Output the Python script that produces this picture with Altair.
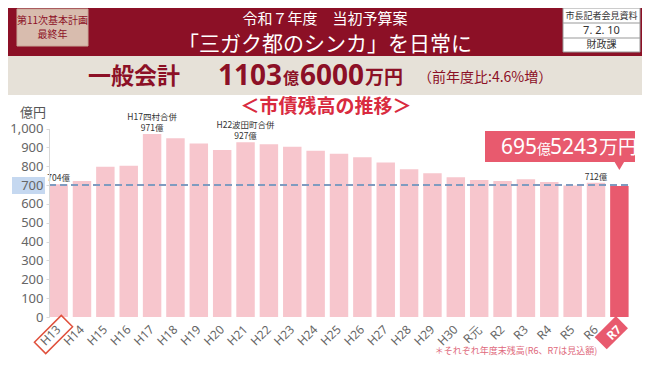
import altair as alt
import pandas as pd

# ---- data ----
cats = ["H13", "H14", "H15", "H16", "H17", "H18", "H19", "H20", "H21", "H22",
        "H23", "H24", "H25", "H26", "H27", "H28", "H29", "H30", "R元", "R2",
        "R3", "R4", "R5", "R6", "R7"]
values = [704, 721, 797, 803, 971, 948, 921, 886, 927, 916,
          903, 882, 866, 848, 820, 784, 763, 741, 727, 722,
          731, 716, 698, 712, 695.5]
ann_cats = ["H13", "H17", "H21", "R6"]
ann_vals = [704, 971, 927, 712]
ann_labels = ["704億", "971億", "927億", "712億"]
event_labels = ["", "H17四村合併", "H22波田町合併", ""]
y_ticks = [0, 100, 200, 300, 400, 500, 600, 700, 800, 900, 1000]
ref_value = 700

JP = "Noto Sans CJK JP"
DARK_RED = "#8C1026"
PINK = "#F7C6CD"
RED = "#E85A6E"

df = pd.DataFrame({"cat": cats, "value": values})
df["hl"] = ["R7" if c == "R7" else "other" for c in cats]
ann = pd.DataFrame({"cat": ann_cats, "value": ann_vals,
                    "lab": ann_labels, "ev": event_labels})
dummy = pd.DataFrame({"a": [0]})

x_enc = alt.X(
    "cat:N",
    scale=alt.Scale(domain=cats, range=[41.4, 620.6], paddingInner=0.21, paddingOuter=0),
    axis=alt.Axis(title=None, orient="bottom", offset=-40, labelAngle=315,
                  labelAlign="right", labelBaseline="middle", labelPadding=10,
                  ticks=False, domain=False, labelFont="Noto Sans", labelFontSize=12,
                  labelColor=alt.expr("datum.label == 'R7' ? '#ffffff' : '#666666'"),
                  labelFontWeight=alt.expr("datum.label == 'R7' ? 'bold' : 'normal'"),
                  zindex=2),
)
y_enc = alt.Y(
    "value:Q",
    scale=alt.Scale(domain=[0, 1000], range=[309, 120.5], nice=False, zero=True),
    axis=alt.Axis(title=None, orient="left", offset=-41, values=y_ticks, format=",d",
                  grid=False, domainColor="#d8d8d8", tickColor="#d8d8d8", tickSize=3,
                  labelFont="Noto Sans", labelFontSize=13, labelColor="#666666",
                  labelPadding=3, zindex=2),
)


def rect(x, x2, y, y2, **kw):
    return alt.Chart(dummy).mark_rect(**kw).encode(
        x=alt.value(x), x2=alt.value(x2), y=alt.value(y), y2=alt.value(y2))


def txt(s, x, y, **kw):
    kw.setdefault("font", JP)
    return alt.Chart(dummy).mark_text(text=s, **kw).encode(x=alt.value(x), y=alt.value(y))


layers = []
# header bands
layers.append(rect(0, 634, 0, 48, color=DARK_RED))
layers.append(rect(0, 634, 48, 87, color="#E6E1D8"))
# left box
layers.append(rect(9, 80, 1, 38, color="#D8BCAE", stroke="#C9A898", strokeWidth=1))
layers.append(txt("第11次基本計画", 44.5, 13, size=10, color=DARK_RED))
layers.append(txt("最終年", 44.5, 27, size=10, color=DARK_RED))
# titles
layers.append(txt("令和７年度　当初予算案", 317, 11, size=15, color="white"))
layers.append(txt("「三ガク都のシンカ」を日常に", 317, 36.5, size=21, color="white"))
# right box
layers.append(rect(555, 632, 0, 44, color="white", stroke="#999999", strokeWidth=1))
layers.append(alt.Chart(dummy).mark_rule(color="#999999").encode(
    x=alt.value(555), x2=alt.value(632), y=alt.value(15)))
layers.append(alt.Chart(dummy).mark_rule(color="#999999").encode(
    x=alt.value(555), x2=alt.value(632), y=alt.value(30)))
layers.append(txt("市長記者会見資料", 593.5, 8, size=9, color="#333333"))
layers.append(txt("7. 2. 10", 593.5, 23, size=11, color="#333333", font="Noto Sans"))
layers.append(txt("財政課", 593.5, 37, size=10, color="#333333"))
# general account line
layers.append(txt("一般会計", 80, 69, size=23, color=DARK_RED, align="left", fontWeight="bold"))
layers.append(txt("1103", 274, 69, size=28, color=DARK_RED, align="right", font="Noto Sans", fontWeight="bold"))
layers.append(txt("億", 275, 71, size=16, color=DARK_RED, align="left", fontWeight="bold"))
layers.append(txt("6000", 356, 69, size=28, color=DARK_RED, align="right", font="Noto Sans", fontWeight="bold"))
layers.append(txt("万円", 357, 70, size=19, color=DARK_RED, align="left", fontWeight="bold"))
layers.append(txt("（前年度比:4.6%増）", 410, 70, size=14, color=DARK_RED, align="left"))
# chart title
layers.append(txt("＜市債残高の推移＞", 318, 99, size=19, color="#D92B3F", fontWeight="bold"))
layers.append(txt("億円", 25, 105, size=13, color="#555555"))
# 700 highlight
layers.append(rect(4, 37, 169, 186, color="#C5D8F0"))

# bars
bars = alt.Chart(df).mark_bar().encode(
    x=x_enc, y=y_enc,
    color=alt.Color("hl:N", scale=alt.Scale(domain=["other", "R7"], range=[PINK, RED]), legend=None),
)
layers.append(bars)

# reference dashed line
layers.append(alt.Chart(pd.DataFrame({"value": [ref_value]})).mark_rule(
    color="#7F9BC0", strokeDash=[7, 4], strokeWidth=2).encode(
    y=y_enc, x=alt.value(41), x2=alt.value(622)))

# annotations
layers.append(alt.Chart(ann).mark_text(font=JP, size=8.5, color="#333333", dy=-6).encode(
    x=x_enc, y=y_enc, text="lab:N"))
layers.append(alt.Chart(ann).mark_text(font=JP, size=8.5, color="#333333", dy=-17).encode(
    x=x_enc, y=y_enc, text="ev:N"))

# callout
layers.append(rect(477, 627, 123, 154, color=RED))
layers.append(txt("695", 529, 140, size=21, color="white", align="right", font="Noto Sans"))
layers.append(txt("億", 529, 142, size=14, color="white", align="left"))
layers.append(txt("5243", 590, 140, size=21, color="white", align="right", font="Noto Sans"))
layers.append(txt("万円", 591, 140, size=19, color="white", align="left"))
layers.append(alt.Chart(df[df.cat == "R7"]).mark_point(
    shape="triangle-down", filled=True, color=RED, size=90, opacity=1).encode(
    x=x_enc, y=alt.value(158)))

# x label boxes (H13 outline, R7 filled)
h13_path = "M1.004,-0.410L0.410,-1.004L-1.004,0.410L-0.410,1.004Z"
r7_path = "M1.110,-0.304L0.304,-1.110L-1.110,0.304L-0.304,1.110Z"
layers.append(alt.Chart(dummy).mark_point(
    shape=h13_path, filled=False, stroke="#E0503C", strokeWidth=1.5, size=1444, opacity=1).encode(
    x=alt.value(45.5), y=alt.value(326.5)))
layers.append(alt.Chart(dummy).mark_point(
    shape=r7_path, filled=True, color=RED, size=900, opacity=1).encode(
    x=alt.value(603.3), y=alt.value(324.7)))

# footnote
layers.append(txt("＊それぞれ年度末残高(R6、R7は見込額)", 508, 343, size=9, color="#E06A7C"))

chart = alt.layer(*layers).properties(
    width=634, height=349, padding=0,
    autosize=alt.AutoSizeParams(type="none"), background="white",
).configure_view(stroke=None)

chart.save("out.html", embed_options={"renderer": "svg", "actions": False})
